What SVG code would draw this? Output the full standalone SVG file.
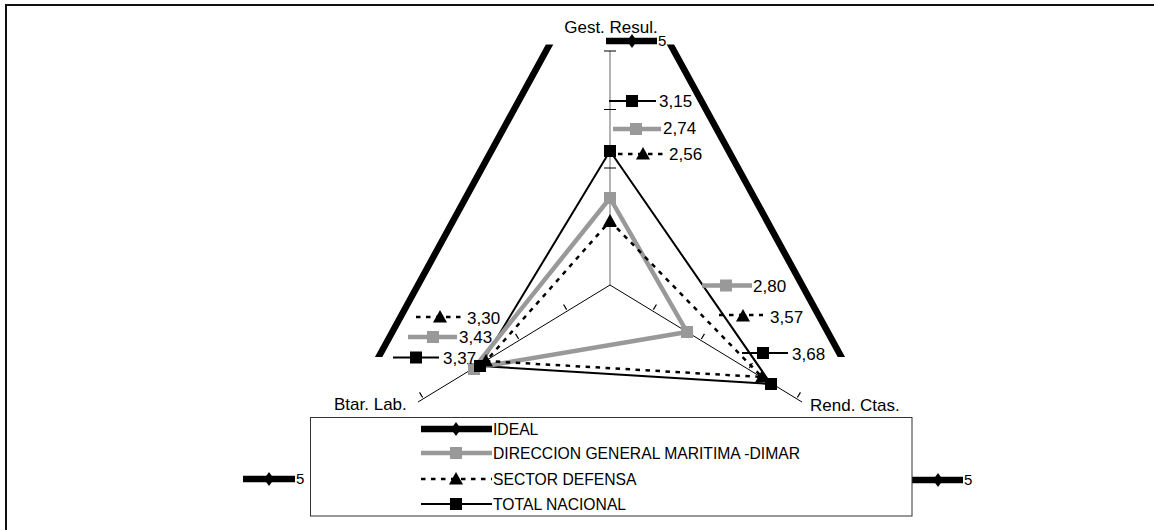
<svg xmlns="http://www.w3.org/2000/svg" xmlns:xlink="http://www.w3.org/1999/xlink" width="1154" height="530" viewBox="0 0 1154 530">
<style>
text{font-family:"Liberation Sans",Arial,sans-serif;fill:#000}
.lbl{font-size:17px}
.leg{font-size:15.7px}
.five{font-size:15px}
.ideal{stroke:#000;stroke-width:6.5;fill:none}
.dimar{stroke:#999;stroke-width:4.5;fill:none;stroke-linejoin:miter}
.sector{stroke:#000;stroke-width:2.5;fill:none;stroke-dasharray:4.5 5.5}
.total{stroke:#000;stroke-width:2;fill:none}
.axis{stroke:#000;stroke-width:1;fill:none}
.axisv{stroke:#808080;stroke-width:1.2;fill:none}
.tick{stroke:#000;stroke-width:1.2}
.blk{fill:#000}
.gry{fill:#999}
</style>
<defs>
<path id="sq" d="M-6,-6h12v12h-12z"/>
<path id="tri" d="M0,-7L7,5.5H-7z"/>
<path id="dia" d="M0,-7L5,0L0,7L-5,0z"/>
<clipPath id="plot"><rect x="0" y="44.5" width="1154" height="312.5"/></clipPath>
</defs>
<rect width="1154" height="530" fill="#fff"/>
<g id="frame"><path d="M6,530V5H1154" stroke="#111" stroke-width="2" fill="none"/></g>

<g id="axes">
<path class="axisv" d="M610,285V51"/>
<path class="axis" d="M610,285L802,402M610,285L418,402"/>
<path class="tick" d="M604,51h12M604,109.5h12M604,168h12M604,226.5h12"/>
<path class="tick" d="M654.9,307.1l-3.1,5.1M702.9,336.4l-3.1,5.1M750.9,365.6l-3.1,5.1M798.9,394.9l-3.1,5.1" transform="translate(1.55,-2.55)"/>
<path class="tick" d="M565.1,307.1l3.1,5.1M517.1,336.4l3.1,5.1M469.1,365.6l3.1,5.1M421.1,394.9l3.1,5.1" transform="translate(-1.55,-2.55)"/>
<text class="lbl" x="611" y="33" text-anchor="middle">Gest. Resul.</text>
<text class="lbl" x="334" y="410">Btar. Lab.</text>
<text class="lbl" x="810" y="411">Rend. Ctas.</text>
</g>

<g id="series-ideal">
<polygon class="ideal" points="610,-66 898,460.5 322,460.5" clip-path="url(#plot)"/>
</g>
<g id="series-total">
<polygon class="total" points="610,151 771,384 480,366"/>
<use href="#sq" x="610" y="151" class="blk"/>
<use href="#sq" x="771" y="384" class="blk"/>
</g>
<g id="series-dimar">
<polygon class="dimar" points="610,198 687,332 474,368"/>
<use href="#sq" x="610" y="198" class="gry"/>
<use href="#sq" x="687" y="332" class="gry"/>
<use href="#sq" x="474" y="369" class="gry"/>
</g>
<g id="series-sector">
<polygon class="sector" points="610,221 762,377 486,361"/>
<use href="#tri" x="610" y="221" class="blk"/>
<use href="#tri" x="762" y="377" class="blk"/>
<use href="#tri" x="486" y="361" class="blk"/>
</g>
<g id="total-left"><use href="#sq" x="480" y="366" class="blk"/></g>

<g id="labels">
<path class="ideal" d="M606,41H657"/><use href="#dia" x="632" y="41" class="blk"/>
<text class="five" x="658" y="46">5</text>
<path class="total" d="M609,101H656"/><use href="#sq" x="632" y="101" class="blk"/>
<text class="lbl" x="659" y="107">3,15</text>
<path class="dimar" d="M613,129H661"/><use href="#sq" x="636" y="129" class="gry"/>
<text class="lbl" x="663" y="134">2,74</text>
<path class="sector" d="M618,154H663"/><use href="#tri" x="643" y="154" class="blk"/>
<text class="lbl" x="669" y="160">2,56</text>

<path class="dimar" d="M702,285.5H752"/><use href="#sq" x="726" y="285.5" class="gry"/>
<text class="lbl" x="753" y="292">2,80</text>
<path class="sector" d="M719,315H763"/><use href="#tri" x="743" y="316" class="blk"/>
<text class="lbl" x="770" y="323">3,57</text>
<path class="total" d="M742,353H788"/><use href="#sq" x="763" y="353" class="blk"/>
<text class="lbl" x="792" y="360">3,68</text>

<path class="sector" d="M416,317H463"/><use href="#tri" x="440" y="317" class="blk"/>
<text class="lbl" x="467" y="324">3,30</text>
<path class="dimar" d="M408,337H457"/><use href="#sq" x="433" y="337" class="gry"/>
<text class="lbl" x="459" y="343">3,43</text>
<path class="total" d="M393,357.5H439"/><use href="#sq" x="416" y="357.5" class="blk"/>
<text class="lbl" x="443" y="364">3,37</text>

<path class="ideal" d="M243,479H295"/><use href="#dia" x="269" y="479" class="blk"/>
<text class="five" x="296" y="484">5</text>
<path class="ideal" d="M912,480H963"/><use href="#dia" x="938" y="480" class="blk"/>
<text class="five" x="964" y="485">5</text>
</g>

<g id="legend">
<rect x="310.5" y="417.5" width="601.5" height="98.5" fill="none" stroke="#333" stroke-width="1"/>
<path class="ideal" d="M421,429H492"/><use href="#dia" x="456" y="429" class="blk"/>
<text class="leg" x="493" y="435">IDEAL</text>
<path class="dimar" d="M421,453H492"/><use href="#sq" x="456" y="453" class="gry"/>
<text class="leg" x="493" y="459">DIRECCION GENERAL MARITIMA -DIMAR</text>
<path class="sector" d="M421,479H492"/><use href="#tri" x="456" y="479" class="blk"/>
<text class="leg" x="493" y="485">SECTOR DEFENSA</text>
<path class="total" d="M421,504H492"/><use href="#sq" x="456" y="504" class="blk"/>
<text class="leg" x="493" y="510">TOTAL NACIONAL</text>
</g>
</svg>
